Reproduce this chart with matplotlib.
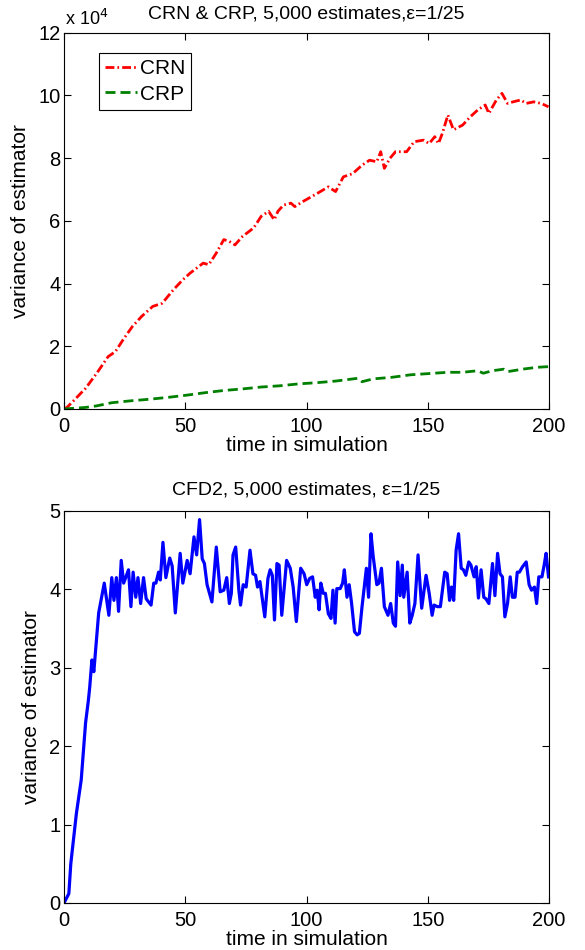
import matplotlib
matplotlib.use("Agg")
import matplotlib.pyplot as plt

plt.rcParams["font.family"] = ["Liberation Sans", "DejaVu Sans"]

# top panel: variance (units of 1e4)
crn_t = [0, 1.2, 4.3, 8.9, 13.5, 18.2, 21.2, 24.3, 28.2, 32.0, 36.6, 40.5, 45.1,
         49.0, 52.0, 57.4, 59.7, 62.8, 65.9, 68.2, 70.5, 73.6, 78.2, 81.3, 84.4,
         86.7, 88.2, 90.5, 93.6, 95.2, 98.2, 99.6, 104.4, 109.0, 112.0, 115.2,
         119.0, 122.9, 126.0, 129.0, 130.6, 132.1, 134.4, 136.7, 141.3, 144.4,
         148.3, 150.6, 152.9, 154.4, 156.0, 158.3, 160.6, 164.4, 167.5, 170.6,
         173.7, 175.2, 178.3, 180.6, 182.9, 185.2, 188.3, 190.6, 193.7, 196.8,
         199.8]
crn_v = [0, 0.05, 0.29, 0.66, 1.14, 1.67, 1.83, 2.2, 2.63, 2.95, 3.27, 3.37, 3.8,
         4.12, 4.33, 4.65, 4.6, 4.97, 5.4, 5.34, 5.23, 5.5, 5.77, 6.14, 6.3,
         6.03, 6.3, 6.5, 6.56, 6.45, 6.6, 6.66, 6.87, 7.08, 6.93, 7.4,
         7.5, 7.77, 7.93, 7.88, 8.2, 7.67, 7.99, 8.2, 8.2, 8.52,
         8.57, 8.46, 8.68, 8.46, 8.78, 9.37, 8.9, 9.05, 9.31, 9.53,
         9.69, 9.42, 9.85, 10.06, 9.74, 9.79, 9.85, 9.74, 9.79, 9.74,
         9.63]

crp_t = [0, 8.9, 13.5, 19.7, 27.4, 35.1, 42.8, 50.5, 58.2, 65.9, 73.6, 81.3, 89.0,
         96.7, 104.4, 112.0, 121.3, 122.9, 127.5, 135.2, 142.9, 150.6, 158.3,
         164.4, 170.6, 172.9, 176.7, 181.4, 182.9, 189.1, 195.2, 199.8]
crp_v = [0, 0.05, 0.1, 0.2, 0.26, 0.31, 0.37, 0.44, 0.52, 0.59, 0.64, 0.7, 0.74,
         0.8, 0.84, 0.89, 0.98, 0.87, 0.96, 1.01, 1.09, 1.13, 1.17,
         1.17, 1.22, 1.14, 1.22, 1.27, 1.19, 1.27, 1.33, 1.35]

# bottom panel: CFD2 variance
cfd_t = [0, 2.0, 2.8, 5.1, 7.1, 8.9, 10.0, 10.6, 11.5, 12.3, 14.3, 16.6, 18.5,
         19.7, 20.6, 21.6, 22.5, 23.6, 24.6, 26.6, 27.6, 28.5, 29.6, 30.5,
         31.6, 32.8, 33.9, 35.9, 37.0, 37.9, 39.0, 39.7, 40.8, 42.0, 43.6,
         44.6, 45.9, 47.9, 49.0, 50.8, 52.0, 53.6, 54.7, 55.9, 57.0, 57.9,
         59.0, 61.0, 62.8, 64.4, 65.9, 67.1, 68.2, 69.0, 69.7, 70.8, 72.1,
         72.8, 73.9, 75.1, 76.7, 77.9, 79.0, 79.8, 80.8, 82.8, 84.1, 85.0,
         85.9, 86.8, 87.8, 88.7, 89.8, 91.8, 93.3, 94.5, 95.8, 97.6, 99.0,
         100.1, 101.3, 102.5, 103.6, 104.4, 105.2, 105.9, 106.9, 107.8, 109.0,
         110.1, 110.9, 111.8, 112.5, 113.9, 114.9, 115.6, 116.7, 117.6, 118.6,
         119.8, 120.9, 121.8, 122.9, 124.7, 125.6, 126.6, 127.5, 129.0, 129.9,
         130.9, 132.1, 133.6, 134.7, 135.8, 136.7, 137.6, 138.6, 139.5, 140.1,
         141.5, 142.6, 143.6, 144.7, 146.0, 147.5, 149.3, 150.6, 151.8, 152.6,
         154.0, 155.2, 157.0, 158.0, 159.0, 159.8, 160.7, 161.7, 162.7, 163.8,
         164.7, 165.7, 166.9, 167.8, 169.1, 170.0, 170.9, 172.0, 173.1, 174.0,
         175.2, 176.7, 177.7, 178.8, 179.8, 180.8, 181.8, 182.9, 184.0, 184.9,
         186.0, 186.9, 187.8, 189.1, 190.6, 191.8, 192.8, 194.0, 194.9, 195.8,
         197.1, 198.0, 198.8, 199.8]
cfd_v = [0, 0.12, 0.5, 1.14, 1.57, 2.3, 2.57, 2.75, 3.1, 2.95, 3.7, 4.08, 3.67,
         4.15, 3.86, 4.15, 3.72, 4.37, 4.08, 4.25, 3.78, 4.22, 3.9, 4.15,
         3.82, 4.15, 3.88, 3.8, 4.08, 4.08, 4.22, 4.12, 4.6, 4.15, 4.4,
         4.3, 3.7, 4.46, 4.08, 4.37, 4.2, 4.67, 4.44, 4.89, 4.39, 4.33,
         4.06, 3.84, 4.54, 3.97, 3.99, 4.15, 3.82, 3.95, 4.44, 4.54, 3.99,
         3.8, 4.06, 4.03, 4.5, 4.2, 4.18, 4.03, 4.1, 3.65, 4.14, 4.25,
         4.18, 3.61, 4.33, 4.31, 3.67, 4.37, 4.27, 4.03, 3.59, 4.27, 4.2,
         4.06, 4.14, 4.16, 3.9, 3.99, 3.74, 4.08, 3.95, 3.95, 3.69,
         3.63, 3.99, 3.57, 4.01, 4.01, 4.08, 4.25, 3.9, 4.06, 3.82,
         3.46, 3.42, 3.44, 3.78, 4.27, 3.9, 4.71, 4.42, 4.06, 4.08,
         4.27, 3.78, 3.67, 3.82, 3.57, 3.53, 4.35, 3.92, 4.31, 3.9,
         4.22, 3.57, 3.67, 3.82, 4.44, 3.76, 4.18, 3.95, 3.67, 3.8,
         3.78, 3.78, 4.22, 4.2, 3.86, 4.03, 3.86, 4.5, 4.71, 4.27,
         4.25, 4.18, 4.35, 4.31, 4.16, 4.29, 3.89, 4.25, 3.9, 3.88,
         3.82, 4.33, 3.92, 4.46, 4.2, 4.16, 3.65, 3.82, 4.16, 3.9,
         3.9, 4.22, 4.22, 4.29, 4.35, 4.06, 3.99, 4.03, 3.82, 4.16,
         4.16, 4.31, 4.46, 4.16]

x_ticks = [0, 50, 100, 150, 200]


def style_axes(ax):
    """matlab-like box with inward ticks on all sides"""
    ax.tick_params(direction="in", top=True, right=True, length=5,
                   width=0.8, labelsize=14.5)
    ax.tick_params(axis="x", pad=5.5)
    ax.tick_params(axis="y", pad=2.5)
    for spine in ax.spines.values():
        spine.set_linewidth(0.8)
    ax.set_xlim(0, 200)
    ax.set_xticks(x_ticks)
    ax.set_xlabel("time in simulation", fontsize=15, labelpad=0)
    ax.set_ylabel("variance of estimator", fontsize=15, labelpad=6)


fig = plt.figure(figsize=(5.85, 9.5), dpi=100)
ax_top = fig.add_axes([64 / 585, 1 - 409 / 950, 485 / 585, 376.5 / 950])
ax_bot = fig.add_axes([64 / 585, 1 - 903 / 950, 485 / 585, 392 / 950])

ax_top.plot(crn_t, crn_v, color="red", linewidth=2,
            linestyle=(0, (3.2, 1.1, 0.6, 1.1)), label="CRN")
ax_top.plot(crp_t, crp_v, color="#008000", linewidth=2,
            linestyle=(0, (3.6, 1.8)), label="CRP")
style_axes(ax_top)
ax_top.set_ylim(0, 12)
ax_top.set_yticks(range(0, 13, 2))
ax_top.set_title("CRN & CRP, 5,000 estimates,ε=1/25", fontsize=14, pad=10)
ax_top.text(0.002, 1.01, "x 10$^4$", transform=ax_top.transAxes,
            fontsize=13, ha="left", va="bottom")
leg = ax_top.legend(loc="upper left", bbox_to_anchor=(0.0715, 0.945),
                    fontsize=15, handlelength=1.55, handletextpad=0.12,
                    borderpad=0.3, labelspacing=0.3, borderaxespad=0,
                    fancybox=False, framealpha=1, edgecolor="black")
leg.get_frame().set_linewidth(0.8)

ax_bot.plot(cfd_t, cfd_v, color="blue", linewidth=2.3)
style_axes(ax_bot)
ax_bot.set_ylim(0, 5)
ax_bot.set_yticks(range(0, 6))
ax_bot.set_title("CFD2, 5,000 estimates, ε=1/25", fontsize=14, pad=12)

fig.savefig("out.png", dpi=100)
